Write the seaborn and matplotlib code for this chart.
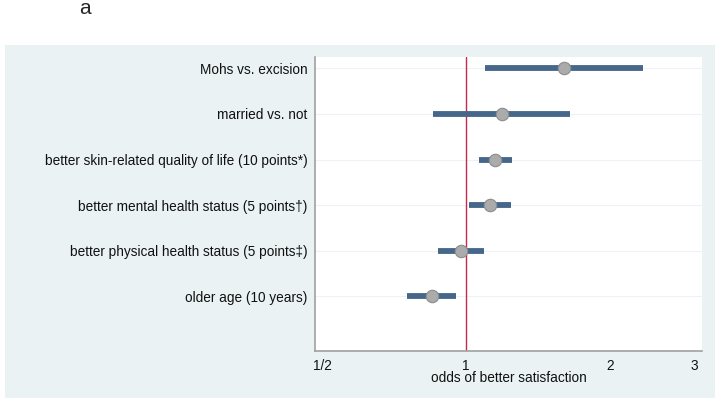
import numpy as np
import pandas as pd
import matplotlib
matplotlib.use("Agg")
import matplotlib.pyplot as plt
import seaborn as sns
from matplotlib.patches import Rectangle

# data
labels = [
    "Mohs vs. excision",
    "married vs. not",
    "better skin-related quality of life (10 points*)",
    "better mental health status (5 points\u2020)",
    "better physical health status (5 points\u2021)",
    "older age (10 years)",
]
odds = [1.60, 1.19, 1.15, 1.12, 0.976, 0.848]
lower = [1.096, 0.853, 1.063, 1.012, 0.874, 0.752]
upper = [2.34, 1.65, 1.246, 1.238, 1.09, 0.951]
xticks = [0.5, 1, 2, 3]
xticklabels = ["1/2", "1", "2", "3"]

df = pd.DataFrame({"label": labels, "odds": odds, "lo": lower, "hi": upper})
df["pos"] = np.arange(len(df))

sns.set_style("white")
plt.rcParams["font.family"] = ["Liberation Sans", "DejaVu Sans"]

fig = plt.figure(figsize=(7.19, 4.05), dpi=100)
fig.patch.set_facecolor("white")
fig.patches.append(Rectangle((5 / 719, 7 / 405), 710 / 719, 353 / 405,
                             transform=fig.transFigure, facecolor="#eaf2f3",
                             edgecolor="none", zorder=-1))
ax = fig.add_axes([315 / 719, 54 / 405, 387 / 719, 294 / 405])
ax.set_zorder(2)
ax.set_facecolor("white")

# faint row grid lines
for p in df["pos"]:
    ax.axhline(p, color="#eef2f4", lw=0.8, zorder=0)

ax.axvline(1, color="#c8284f", lw=1.0, zorder=1)
ax.hlines(df["pos"], df["lo"], df["hi"], color="#456789", lw=4.2, zorder=2)
sns.scatterplot(data=df, x="odds", y="pos", ax=ax, s=80, color="#ababab",
                edgecolor="#8c8c8c", linewidth=0.8, zorder=3)

ax.set_xscale("log")
ax.set_xlim(0.483, 3.11)
ax.set_xticks(xticks)
ax.set_xticklabels(xticklabels)
ax.minorticks_off()
ax.set_ylim(6.2, -0.25)
ax.set_yticks(list(range(7)))
ax.set_yticklabels(labels + [""])
ax.set_xlabel("odds of better satisfaction", fontsize=9.8, labelpad=-1, color="#111111")
ax.set_ylabel("")

for s in ["top", "right"]:
    ax.spines[s].set_visible(False)
for s in ["left", "bottom"]:
    ax.spines[s].set_color("#a0a0a0")
    ax.spines[s].set_linewidth(1.2)
ax.tick_params(axis="both", direction="out", length=4, width=0.8,
               color="#a0a0a0", labelsize=9.8, labelcolor="#111111", pad=1.5)

fig.text(85 / 719, 1 - 9 / 405, "a", fontsize=15, ha="center", va="center")

fig.savefig("out.png", dpi=100, facecolor="white")
